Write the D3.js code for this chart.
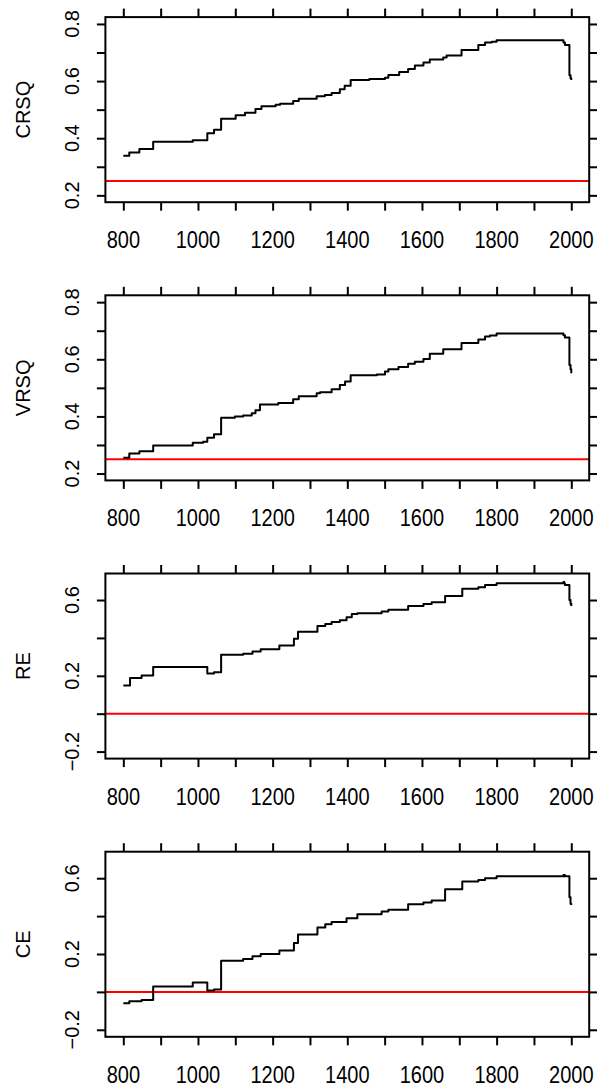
<!DOCTYPE html>
<html>
<head>
<meta charset="utf-8">
<script src="https://cdn.jsdelivr.net/npm/d3@7"></script>
<style>
  html, body { margin: 0; padding: 0; background: #fff; }
  svg { display: block; }
  text { font-family: "Liberation Sans", Arial, Helvetica, sans-serif; fill: #000; }
</style>
</head>
<body>
<div id="chart"></div>
<script>
// step breakpoints: [year, value]
const crsqSteps = [
  [800,0.339],[816,0.350],[843,0.362],[880,0.388],[986,0.393],[1025,0.417],[1043,0.430],
  [1062,0.468],[1101,0.480],[1126,0.489],[1154,0.502],[1170,0.512],[1208,0.517],[1220,0.521],
  [1255,0.530],[1270,0.538],[1318,0.547],[1340,0.551],[1358,0.558],[1380,0.571],[1393,0.584],
  [1409,0.604],[1459,0.607],[1501,0.612],[1510,0.621],[1539,0.632],[1563,0.642],[1581,0.655],
  [1604,0.665],[1621,0.676],[1657,0.683],[1666,0.690],[1706,0.709],[1751,0.726],[1769,0.735],
  [1787,0.738],[1800,0.743],[1979,0.735],[1983,0.726],[1995,0.620],[1998,0.610],[2000,0.604]
];
const vrsqSteps = [
  [800,0.255],[816,0.270],[843,0.278],[880,0.298],[986,0.308],[1014,0.311],[1025,0.325],
  [1043,0.338],[1062,0.395],[1099,0.400],[1121,0.403],[1144,0.411],[1154,0.422],[1166,0.442],
  [1215,0.447],[1255,0.460],[1270,0.471],[1318,0.481],[1327,0.485],[1358,0.495],[1380,0.510],
  [1394,0.522],[1409,0.544],[1479,0.547],[1501,0.557],[1510,0.565],[1537,0.573],[1563,0.584],
  [1581,0.591],[1604,0.601],[1621,0.619],[1657,0.635],[1706,0.657],[1751,0.669],[1769,0.680],
  [1782,0.683],[1800,0.690],[1979,0.684],[1983,0.676],[1995,0.580],[1998,0.565],[2000,0.551]
];
const reSteps = [
  [800,0.149],[818,0.189],[849,0.202],[880,0.247],[1025,0.212],[1043,0.219],[1062,0.311],
  [1121,0.316],[1146,0.328],[1168,0.340],[1218,0.360],[1257,0.396],[1268,0.433],[1320,0.463],
  [1341,0.474],[1358,0.484],[1380,0.493],[1398,0.509],[1412,0.526],[1427,0.530],[1492,0.539],
  [1510,0.549],[1563,0.568],[1604,0.579],[1626,0.588],[1662,0.621],[1708,0.660],[1751,0.668],
  [1769,0.679],[1800,0.689],[1979,0.695],[1981,0.689],[1983,0.679],[1995,0.600],[1998,0.580],
  [2000,0.568]
];
const ceSteps = [
  [800,-0.060],[816,-0.050],[849,-0.043],[880,0.029],[986,0.050],[1025,0.008],[1043,0.013],
  [1062,0.165],[1121,0.174],[1146,0.188],[1168,0.200],[1218,0.219],[1257,0.258],[1268,0.303],
  [1320,0.340],[1341,0.357],[1358,0.369],[1398,0.389],[1427,0.410],[1492,0.425],[1510,0.434],
  [1563,0.462],[1604,0.472],[1626,0.483],[1662,0.542],[1708,0.583],[1751,0.591],[1769,0.600],
  [1800,0.610],[1979,0.617],[1983,0.610],[1995,0.500],[1998,0.465],[2000,0.459]
];

const panelNames = ["CRSQ", "VRSQ", "RE", "CE"];
const panelSeries = [crsqSteps, vrsqSteps, reSteps, ceSteps];
const thresholds = [0.25, 0.25, 0, 0];
const yDomains = [[0.176, 0.824], [0.176, 0.824], [-0.237, 0.740], [-0.237, 0.740]];
const yTicks = [
  [0.2, 0.3, 0.4, 0.5, 0.6, 0.7, 0.8],
  [0.2, 0.3, 0.4, 0.5, 0.6, 0.7, 0.8],
  [-0.2, 0, 0.2, 0.4, 0.6],
  [-0.2, 0, 0.2, 0.4, 0.6]
];
const yTickLabels = [
  [0.2, 0.4, 0.6, 0.8],
  [0.2, 0.4, 0.6, 0.8],
  [-0.2, 0.2, 0.6],
  [-0.2, 0.2, 0.6]
];
const xDomain = [752, 2048];
const xTicks = [800, 900, 1000, 1100, 1200, 1300, 1400, 1500, 1600, 1700, 1800, 1900, 2000];
const xTickLabels = [800, 1000, 1200, 1400, 1600, 1800, 2000];

// layout
const W = 597, H = 1085;
const boxLeft = 105.4, boxRight = 589.2;
const firstTop = 17.1, panelStep = 278.2, boxH = 185.1;
const tickLen = 8.5;

const svg = d3.select("#chart").append("svg")
  .attr("width", W)
  .attr("height", H);

const x = d3.scaleLinear().domain(xDomain).range([boxLeft, boxRight]);

const fmtY = d => d === 0 ? "0.0" : d3.format(".1f")(d).replace("-", "\u2212");

panelNames.forEach((name, i) => {
  const top = firstTop + i * panelStep;
  const bottom = top + boxH;
  const y = d3.scaleLinear().domain(yDomains[i]).range([bottom, top]);
  const g = svg.append("g");

  // threshold line
  g.append("line")
    .attr("x1", boxLeft).attr("x2", boxRight)
    .attr("y1", y(thresholds[i])).attr("y2", y(thresholds[i]))
    .attr("stroke", "#ff0000")
    .attr("stroke-width", 2);

  // series
  const line = d3.line()
    .x(d => x(d[0]))
    .y(d => y(d[1]))
    .curve(d3.curveStepAfter);
  g.append("path")
    .datum(panelSeries[i])
    .attr("d", line)
    .attr("fill", "none")
    .attr("stroke", "#000")
    .attr("stroke-width", 2)
    .attr("stroke-linejoin", "round");

  // axes: bottom/top with ticks, left/right with ticks
  const axB = g.append("g").attr("transform", `translate(0,${bottom})`)
    .call(d3.axisBottom(x).tickValues(xTicks).tickSize(tickLen).tickFormat(""));
  const axT = g.append("g").attr("transform", `translate(0,${top})`)
    .call(d3.axisTop(x).tickValues(xTicks).tickSize(tickLen).tickFormat(""));
  const axL = g.append("g").attr("transform", `translate(${boxLeft},0)`)
    .call(d3.axisLeft(y).tickValues(yTicks[i]).tickSize(tickLen).tickFormat(""));
  const axR = g.append("g").attr("transform", `translate(${boxRight},0)`)
    .call(d3.axisRight(y).tickValues(yTicks[i]).tickSize(tickLen).tickFormat(""));
  [axB, axT, axL, axR].forEach(a => {
    a.select(".domain").remove();
    a.selectAll(".tick line").attr("stroke", "#000").attr("stroke-width", 2);
  });

  // box
  g.append("rect")
    .attr("x", boxLeft).attr("y", top)
    .attr("width", boxRight - boxLeft).attr("height", boxH)
    .attr("fill", "none")
    .attr("stroke", "#000")
    .attr("stroke-width", 2);

  // x labels (glyphs in the picture are a bit taller than wide)
  g.selectAll(".xl")
    .data(xTickLabels)
    .enter().append("text")
      .attr("transform", d => `translate(${x(d)},${bottom + 46}) scale(1,1.15)`)
      .attr("text-anchor", "middle")
      .attr("font-size", 20)
      .text(d => d);

  // y labels (rotated like R's default)
  g.selectAll(".yl")
    .data(yTickLabels[i])
    .enter().append("text")
      .attr("transform", d => `translate(78.5,${y(d)}) rotate(-90)`)
      .attr("text-anchor", "middle")
      .attr("font-size", 20)
      .text(fmtY);

  // axis title
  g.append("text")
    .attr("transform", `translate(29.5,${(top + bottom) / 2}) rotate(-90)`)
    .attr("text-anchor", "middle")
    .attr("font-size", 20)
    .text(name);
});
</script>
</body>
</html>
